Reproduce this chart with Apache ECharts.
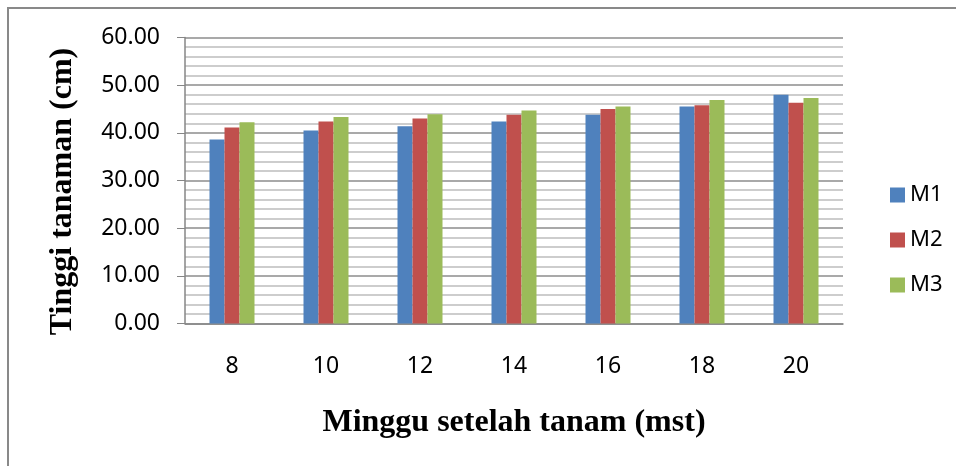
<!DOCTYPE html>
<html>
<head>
<meta charset="utf-8">
<script src="https://cdn.jsdelivr.net/npm/echarts@6/dist/echarts.min.js"></script>
<style>
  html, body { margin: 0; padding: 0; background: #fff; }
  #chart { width: 956px; height: 466px; }
</style>
</head>
<body>
<div id="chart"></div>
<script>
// minggu setelah tanam
var categories = ['8', '10', '12', '14', '16', '18', '20']
var seriesNames = ['M1', 'M2', 'M3']
var m1 = [38.6, 40.5, 41.4, 42.4, 43.8, 45.5, 48.0]
var m2 = [41.1, 42.4, 43.0, 43.8, 45.0, 45.8, 46.3]
var m3 = [42.2, 43.3, 43.9, 44.7, 45.5, 46.9, 47.3]
var colors = ['#4F81BD', '#C0504D', '#9BBB59']

var chart = echarts.init(document.getElementById('chart'))

function bar(name, data, i) {
  return {
    name: name,
    type: 'bar',
    data: data,
    barWidth: 15,
    barGap: '0%',
    itemStyle: { color: colors[i] },
    animation: false
  }
}

chart.setOption({
  animation: false,
  textStyle: { fontFamily: 'Noto Sans' },
  graphic: [
    {
      type: 'rect',
      shape: { x: 8, y: 8, width: 1000, height: 500 },
      style: { fill: 'none', stroke: '#898989', lineWidth: 2 },
      silent: true
    }
  ],
  grid: {
    left: 185,
    right: 113,
    top: 37.5,
    bottom: 142.5
  },
  legend: {
    orient: 'vertical',
    left: 885,
    top: 179,
    itemWidth: 15,
    itemHeight: 15,
    itemGap: 23,
    icon: 'rect',
    data: seriesNames,
    textStyle: { fontSize: 22, color: '#000', fontFamily: 'Noto Sans' }
  },
  xAxis: {
    type: 'category',
    data: categories,
    name: 'Minggu setelah tanam (mst)',
    nameLocation: 'middle',
    nameGap: 83,
    nameTextStyle: {
      fontFamily: 'Liberation Serif',
      fontWeight: 'bold',
      fontSize: 32,
      color: '#000'
    },
    axisLine: { lineStyle: { color: '#868686', width: 1.5 } },
    axisTick: { show: false },
    axisLabel: { margin: 31, fontSize: 23, color: '#000' }
  },
  yAxis: {
    type: 'value',
    min: 0,
    max: 60,
    interval: 10,
    name: 'Tinggi tanaman (cm)',
    nameLocation: 'middle',
    nameGap: 106,
    nameTextStyle: {
      fontFamily: 'Liberation Serif',
      fontWeight: 'bold',
      fontSize: 32,
      color: '#000',
      padding: [0, 22, 0, 0]
    },
    axisLine: { show: true, lineStyle: { color: '#868686', width: 1.5 } },
    axisTick: { show: true, length: 8, lineStyle: { color: '#868686' } },
    axisLabel: {
      margin: 25,
      fontSize: 23,
      color: '#000',
      formatter: function (v) { return v.toFixed(2) }
    },
    splitLine: { lineStyle: { color: '#8C8C8C', width: 1.5 } },
    minorTick: { show: false, splitNumber: 5 },
    minorSplitLine: { show: true, lineStyle: { color: '#BDBDBD', width: 1.5 } }
  },
  series: [
    bar(seriesNames[0], m1, 0),
    bar(seriesNames[1], m2, 1),
    bar(seriesNames[2], m3, 2)
  ]
})
</script>
</body>
</html>
